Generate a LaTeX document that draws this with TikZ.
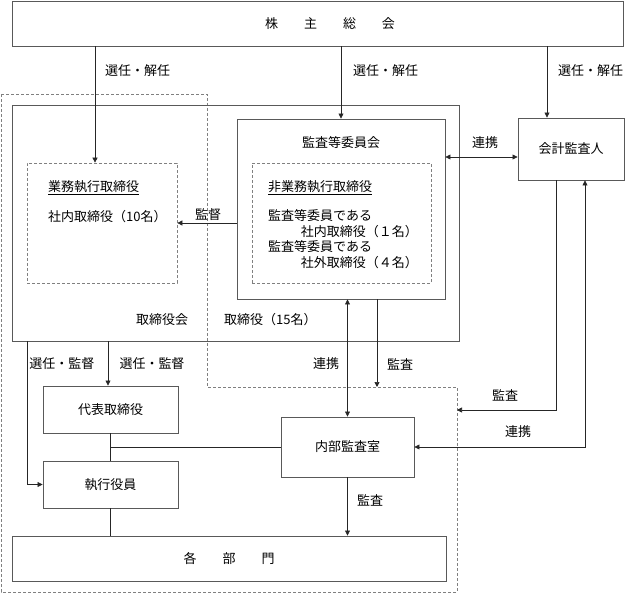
\documentclass[tikz,border=0pt]{standalone}
\usepackage{fontspec}
\setmainfont{Noto Sans CJK JP}
\usetikzlibrary{arrows.meta}

\begin{document}
\begin{tikzpicture}[x=1pt,y=-1pt,>={Triangle[length=5pt,width=5pt]},
  box/.style={draw=black!65,line width=0.9pt,inner sep=0pt},
  dbox/.style={draw=black!50,dash pattern=on 3pt off 2pt,line width=0.7pt,inner sep=0pt},
  txt/.style={inner sep=0pt,font=\fontsize{13}{15}\selectfont},
  conn/.style={draw=black!85,line width=0.7pt}]
\useasboundingbox (0,0) rectangle (625,594);

% outer dashed area
\draw[dbox] (1,94) -- (207,94) -- (207,387) -- (457,387) -- (457,592) -- (1,592) -- cycle;
\coordinate (edge) at (457,387);

% boxes
\node[box,minimum width=611,minimum height=45] (sh) at (317.5,23.5) {};
\node[txt] (shtext) at (330,23.5) {株\hspace{2em}主\hspace{2em}総\hspace{2em}会};
\node[box,minimum width=447,minimum height=236] (board) at (235.5,223) {};
\node[dbox,minimum width=150,minimum height=120] (exec) at (102,223) {};
\node[box,fill=white,minimum width=208,minimum height=180] (acb) at (341,209) {};
\node[dbox,minimum width=179,minimum height=120] (nonexec) at (341.5,223) {};
\node[box,minimum width=106,minimum height=62,txt] (auditor) at (571,149) {会計監査人};
\node[box,minimum width=135,minimum height=47,txt] (rep) at (110.5,409.5) {代表取締役};
\node[box,minimum width=135,minimum height=47,txt] (officer) at (110.5,484.5) {執行役員};
\node[box,minimum width=133,minimum height=60,txt] (internal) at (347.5,447) {内部監査室};
\node[box,minimum width=434,minimum height=45,txt] (dept) at (229,558.5) {各\hspace{2em}部\hspace{2em}門};

% texts in the board
\node[txt,anchor=west] (exectitle) at (48,188) {\underline{業務執行取締役}};
\node[txt,anchor=west] (execnum) at (48,217) {社内取締役（10名）};
\node[txt] (acbtitle) at (341,143) {監査等委員会};
\node[txt,anchor=west] (nontitle) at (268,188) {\underline{非業務執行取締役}};
\node[txt,anchor=west] (non1) at (268,216) {監査等委員である};
\node[txt,anchor=east] (non2) at (418,232) {社内取締役（１名）};
\node[txt,anchor=west] (non3) at (268,247) {監査等委員である};
\node[txt,anchor=east] (non4) at (418,263) {社外取締役（４名）};
\node[txt] (boardname) at (162,320) {取締役会};
\node[txt,anchor=west] (boardnum) at (224,320) {取締役（15名）};

% connectors
\draw[conn,->] (sh.south -| 95,0) -- (exec.north -| 95,0);
\draw[conn,->] (sh.south -| acb.north) -- (acb.north);
\draw[conn,->] (sh.south -| 547,0) -- (auditor.north -| 547,0);
\draw[conn,->] (acb.west |- exec.east) -- (exec.east);
\draw[conn,<->] (acb.east |- 0,157) -- (auditor.west |- 0,157);
\draw[conn,<->] (acb.south -| internal.north) -- (internal.north);
\draw[conn,->] (acb.south -| 377,0) -- (edge -| 377,0);
\draw[conn,->] (auditor.south -| 556,0) |- (edge |- 0,410);
\draw[conn,<->] (internal.east) -| (auditor.south -| 585,0);
\draw[conn,->] (internal.south) -- (internal.south |- dept.north);
\draw[conn,->] (board.south -| 27,0) |- (officer.west);
\draw[conn,->] (board.south -| 108,0) -- (rep.north -| 108,0);
\draw[conn] (rep.south) -- (officer.north);
\draw[conn] (rep.south |- internal.west) -- (internal.west);
\draw[conn] (officer.south) -- (officer.south |- dept.north);

% labels
\node[txt,anchor=west] (l1) at (105,71) {選任・解任};
\node[txt,anchor=west] (l2) at (353,71) {選任・解任};
\node[txt,anchor=west] (l3) at (558,71) {選任・解任};
\node[txt] (l4) at (208,215) {監督};
\node[txt] (l5) at (485,143) {連携};
\node[txt] (l6) at (326,364) {連携};
\node[txt] (l7) at (400,364) {監査};
\node[txt] (l8) at (505,395) {監査};
\node[txt] (l9) at (518,432) {連携};
\node[txt] (l10) at (370,500) {監査};
\node[txt] (l11) at (62,364) {選任・監督};
\node[txt] (l12) at (152,364) {選任・監督};
\end{tikzpicture}
\end{document}
